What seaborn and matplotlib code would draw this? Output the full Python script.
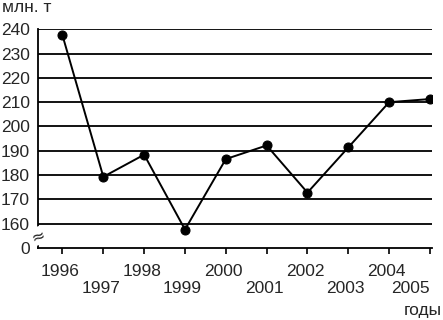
import matplotlib
matplotlib.use("Agg")
import matplotlib.pyplot as plt
import seaborn as sns
import pandas as pd
from matplotlib.transforms import offset_copy

years = [1996, 1997, 1998, 1999, 2000, 2001, 2002, 2003, 2004, 2005]
values = [237.5, 179.3, 188.4, 157.6, 186.6, 192.2, 172.8, 191.4, 210.0, 211.3]
ytick_vals = [150, 160, 170, 180, 190, 200, 210, 220, 230, 240]
ytick_labels = ["0", "160", "170", "180", "190", "200", "210", "220", "230", "240"]
xtick_labels = [str(y) for y in years]

sns.set_theme(style="white")
plt.rcParams["font.family"] = ["Liberation Sans", "DejaVu Sans"]
FS = 12.5

df = pd.DataFrame({"year": years, "value": values})

fig = plt.figure(figsize=(4.43, 3.20), dpi=100)
ax = fig.add_axes([38 / 443, 1 - 248 / 320, (432 - 38) / 443, (248 - 29.3) / 320])

for v in ytick_vals[1:]:
    ax.axhline(v, color="black", lw=1.3, zorder=1)

sns.lineplot(data=df, x="year", y="value", ax=ax, color="black", lw=1.4,
             marker="o", markersize=6.5, markeredgecolor="black", zorder=3)

ax.set_xlim(1995.4, 2005.05)
ax.set_ylim(150, 240)
ax.set_yticks(ytick_vals)
ax.set_yticklabels(ytick_labels, fontsize=FS)
ax.set_xticks(years)
ax.set_xticklabels([""] * len(years))
tr = offset_copy(ax.get_xaxis_transform(), fig=fig, x=-2.5, y=0, units="dots")
for i, (yr, lab) in enumerate(zip(years, xtick_labels)):
    off = 0.108 if i % 2 == 0 else 0.184
    if i == len(years) - 1:
        ax.text(yr, -off, lab, transform=ax.get_xaxis_transform(), ha="right",
                va="center", fontsize=FS)
    else:
        ax.text(yr, -off, lab, transform=tr, ha="center", va="center", fontsize=FS)

ax.tick_params(axis="x", direction="out", length=4, width=1.2, color="black", bottom=True)
ax.tick_params(axis="y", length=0, pad=6)
ax.set_xlabel("")
ax.set_ylabel("")
for s in ["top", "right"]:
    ax.spines[s].set_visible(False)
for s in ["left", "bottom"]:
    ax.spines[s].set_color("black")
    ax.spines[s].set_linewidth(1.3)

# axis break mark
ax.text(1995.4, 155, "≈", ha="center", va="center", fontsize=12,
        family="DejaVu Sans", rotation=20,
        bbox=dict(facecolor="white", edgecolor="none", pad=0.0), zorder=5,
        clip_on=False)

fig.text(2 / 443, 1 - 8 / 320, "млн. т", ha="left", va="center", fontsize=FS)
fig.text(442 / 443, 1 - 310 / 320, "годы", ha="right", va="center", fontsize=FS)

fig.savefig("out.png", dpi=100)
